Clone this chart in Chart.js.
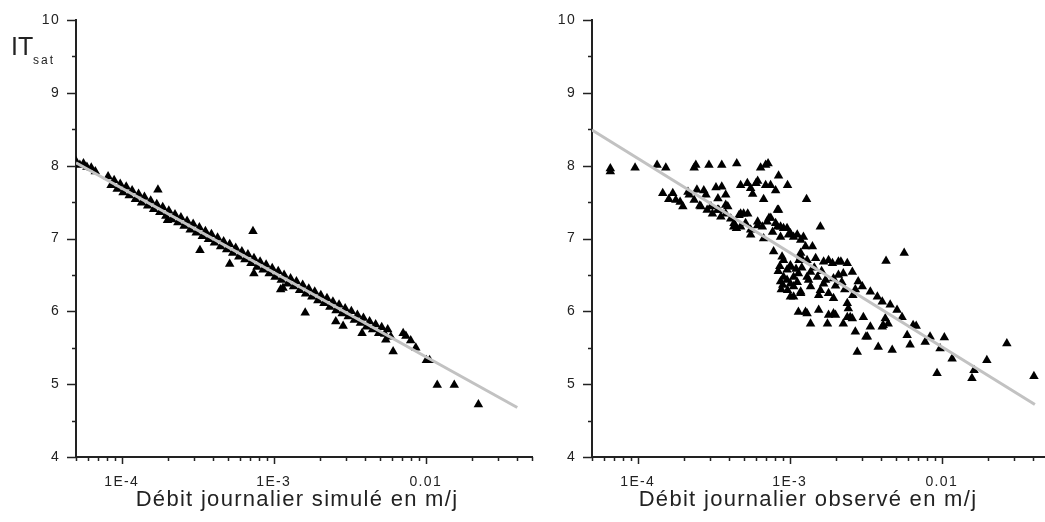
<!DOCTYPE html>
<html>
<head>
<meta charset="utf-8">
<script src="https://cdn.jsdelivr.net/npm/chart.js@4.4.0/dist/chart.umd.min.js"></script>
<style>
  html, body { margin: 0; padding: 0; background: #fff; overflow: hidden; }
  #wrap { position: relative; width: 1045px; height: 522px; overflow: hidden; }
  #left { position: absolute; left: 0; top: 0; }
  #right { position: absolute; left: 522px; top: 0; }
</style>
</head>
<body>
<div id="wrap">
  <canvas id="left" width="541" height="522"></canvas>
  <canvas id="right" width="535" height="522"></canvas>
</div>
<script>
// x tick labels (decades) on both panels
var xMajor = [1e-4, 1e-3, 1e-2];
var xTickLabels = ["1E-4", "1E-3", "0.01"];

// left panel: simulated daily flow (m/j) vs IT sat
var simQ = [5.0e-5, 5.3e-5, 5.6e-5, 5.9e-5, 6.3e-5, 6.7e-5,
  8.13e-5, 8.51e-5, 8.91e-5, 9.33e-5, 9.77e-5, 1.02e-4, 1.07e-4, 1.12e-4, 1.17e-4, 1.23e-4,
  1.29e-4, 1.35e-4, 1.41e-4, 1.48e-4, 1.55e-4, 1.62e-4, 1.70e-4, 1.78e-4, 1.86e-4, 1.95e-4,
  2.04e-4, 2.14e-4, 2.24e-4, 2.34e-4, 2.45e-4, 2.57e-4, 2.69e-4, 2.82e-4, 2.95e-4, 3.09e-4,
  3.24e-4, 3.39e-4, 3.55e-4, 3.72e-4, 3.89e-4, 4.07e-4, 4.27e-4, 4.47e-4, 4.68e-4, 4.90e-4,
  5.13e-4, 5.37e-4, 5.62e-4, 5.89e-4, 6.17e-4, 6.46e-4, 6.76e-4, 7.08e-4, 7.41e-4, 7.76e-4,
  8.13e-4, 8.51e-4, 8.91e-4, 9.33e-4, 9.77e-4, 1.02e-3, 1.07e-3, 1.12e-3, 1.17e-3, 1.23e-3,
  1.29e-3, 1.35e-3, 1.41e-3, 1.48e-3, 1.55e-3, 1.62e-3, 1.70e-3, 1.78e-3, 1.86e-3, 1.95e-3,
  2.04e-3, 2.14e-3, 2.24e-3, 2.34e-3, 2.45e-3, 2.57e-3, 2.69e-3, 2.82e-3, 2.95e-3, 3.09e-3,
  3.24e-3, 3.39e-3, 3.55e-3, 3.72e-3, 3.89e-3, 4.07e-3, 4.27e-3, 4.47e-3, 4.68e-3, 4.90e-3,
  5.13e-3, 5.37e-3, 5.62e-3, 5.89e-3,
  1.73e-4, 2.0e-4, 3.27e-4, 5.13e-4, 7.3e-4, 7.4e-4, 1.11e-3, 1.15e-3, 1.61e-3, 2.56e-3,
  2.86e-3, 3.81e-3, 5.46e-3, 6.1e-3, 7.1e-3, 7.4e-3, 7.96e-3, 8.6e-3, 1.01e-2, 1.06e-2,
  1.19e-2, 1.54e-2, 2.22e-2];
var simIT = [8.06, 8.01, 8.03, 7.98, 7.97, 7.92,
  7.85, 7.73, 7.80, 7.68, 7.75, 7.63, 7.71, 7.59, 7.66, 7.54,
  7.61, 7.49, 7.57, 7.45, 7.52, 7.40, 7.47, 7.36, 7.43, 7.31,
  7.38, 7.26, 7.33, 7.22, 7.29, 7.17, 7.24, 7.12, 7.20, 7.08,
  7.15, 7.03, 7.10, 6.99, 7.06, 6.94, 7.01, 6.89, 6.96, 6.85,
  6.92, 6.80, 6.87, 6.75, 6.82, 6.71, 6.78, 6.66, 6.73, 6.61,
  6.68, 6.57, 6.64, 6.52, 6.59, 6.47, 6.55, 6.43, 6.50, 6.38,
  6.45, 6.34, 6.41, 6.29, 6.36, 6.24, 6.31, 6.20, 6.27, 6.15,
  6.22, 6.11, 6.18, 6.06, 6.13, 6.01, 6.09, 5.97, 6.04, 5.93,
  6.00, 5.88, 5.95, 5.84, 5.91, 5.79, 5.86, 5.75, 5.82, 5.70,
  5.78, 5.69, 5.75, 5.65,
  7.67, 7.25, 6.84, 6.65, 7.10, 6.52, 6.30, 6.32, 5.98, 5.86,
  5.80, 5.70, 5.61, 5.45, 5.70, 5.66, 5.60, 5.50, 5.33, 5.33,
  4.99, 4.99, 4.72];
var simFitQ = [5e-5, 0.04];
var simFitIT = [8.04, 4.68];

// right panel: observed daily flow (m/j) vs IT sat
var obsQ = [6.6e-5, 6.6e-5, 9.6e-5, 1.34e-4, 1.53e-4, 2.35e-4, 2.41e-4, 2.94e-4, 3.57e-4, 4.48e-4,
  6.43e-4, 6.94e-4, 7.2e-4, 8.44e-4, 9.67e-4, 1.29e-3,
  1.46e-4, 1.70e-4, 1.60e-4, 1.78e-4, 1.90e-4, 1.98e-4, 2.14e-4, 2.18e-4, 2.35e-4, 2.45e-4,
  2.56e-4, 2.60e-4, 2.72e-4, 2.81e-4, 2.86e-4, 3.03e-4, 3.10e-4, 3.27e-4, 3.35e-4, 3.37e-4,
  3.41e-4, 3.52e-4, 3.57e-4, 3.79e-4, 3.79e-4, 3.79e-4, 3.91e-4, 4.09e-4, 4.28e-4, 4.30e-4,
  4.46e-4, 4.64e-4, 4.75e-4, 4.75e-4, 4.75e-4, 4.97e-4, 5.12e-4, 5.26e-4, 5.29e-4, 5.53e-4,
  5.53e-4, 5.53e-4, 5.70e-4, 6.0e-4, 6.15e-4, 6.15e-4, 6.15e-4, 6.6e-4, 6.73e-4, 6.73e-4,
  6.94e-4, 7.1e-4, 7.3e-4, 7.48e-4, 7.5e-4, 7.71e-4, 7.83e-4, 8.07e-4, 8.07e-4, 8.3e-4,
  8.3e-4, 8.44e-4, 8.7e-4, 8.7e-4, 9.1e-4, 9.6e-4, 9.81e-4, 1.01e-3, 1.06e-3, 1.12e-3,
  1.18e-3, 1.23e-3, 1.27e-3, 1.41e-3, 1.59e-3,
  8.9e-4, 9.1e-4, 1.01e-3, 1.15e-3, 9.6e-4, 1.01e-3, 1.06e-3, 9.1e-4, 8.7e-4, 9.6e-4,
  1.01e-3, 1.06e-3, 1.18e-3, 1.33e-3, 9.67e-4, 1.01e-3, 1.06e-3, 1.18e-3, 1.18e-3, 1.30e-3,
  1.14e-3, 1.30e-3, 1.37e-3, 1.48e-3, 1.52e-3, 1.67e-3, 1.72e-3, 1.80e-3, 1.91e-3, 1.94e-3,
  2.09e-3, 2.09e-3, 2.17e-3, 2.25e-3, 2.39e-3, 2.58e-3, 1.18e-3, 1.37e-3, 1.55e-3, 1.59e-3,
  1.67e-3, 1.80e-3, 1.94e-3, 1.14e-3, 1.27e-3, 1.30e-3, 1.55e-3, 1.80e-3, 1.94e-3, 2.00e-3,
  1.37e-3, 1.77e-3, 2.25e-3, 2.39e-3, 2.39e-3, 2.43e-3, 2.50e-3, 2.58e-3, 2.70e-3, 2.78e-3,
  2.82e-3, 3.00e-3, 3.05e-3, 3.17e-3, 3.24e-3, 3.39e-3, 3.39e-3, 3.77e-3, 3.82e-3, 4.06e-3,
  4.06e-3, 4.12e-3, 4.25e-3, 4.3e-3, 4.44e-3, 4.58e-3, 4.72e-3, 5.08e-3, 5.48e-3, 5.66e-3,
  5.92e-3, 6.19e-3, 6.48e-3, 6.79e-3, 7.78e-3, 8.38e-3, 9.31e-3, 9.75e-3, 1.04e-2, 1.17e-2,
  1.58e-2, 1.63e-2, 1.98e-2, 2.68e-2, 4.04e-2,
  8.4e-4, 8.6e-4, 8.8e-4, 9.0e-4, 1.1e-3, 1.12e-3, 1.2e-3, 1.45e-3, 1.62e-3, 2.0e-3,
  2.2e-3, 2.3e-3, 2.6e-3, 2.7e-3];
var obsIT = [7.92, 7.96, 7.97, 8.01, 7.97, 7.97, 8.01, 8.01, 8.01, 8.03,
  7.97, 8.01, 8.03, 7.86, 7.73, 7.54,
  7.62, 7.62, 7.54, 7.53, 7.50, 7.44, 7.64, 7.60, 7.53, 7.67,
  7.45, 7.44, 7.66, 7.60, 7.39, 7.44, 7.34, 7.70, 7.39, 7.55,
  7.39, 7.30, 7.71, 7.60, 7.34, 7.46, 7.44, 7.27, 7.16, 7.21,
  7.14, 7.32, 7.73, 7.16, 7.34, 7.34, 7.21, 7.76, 7.34, 7.69,
  7.12, 7.05, 7.61, 7.76, 7.79, 7.23, 7.18, 7.16, 7.54, 7.00,
  7.73, 7.23, 7.28, 7.73, 7.28, 7.09, 6.82, 7.66, 7.21, 7.39,
  7.16, 7.39, 7.02, 7.16, 7.14, 7.14, 7.05, 7.07, 7.02, 7.05,
  6.98, 7.02, 6.89, 6.89, 7.16,
  6.75, 6.70, 6.63, 6.70, 6.57, 6.61, 6.47, 6.47, 6.41, 6.43,
  6.38, 6.34, 6.25, 6.43, 6.29, 6.20, 6.20, 6.80, 6.75, 6.70,
  6.52, 6.47, 6.54, 6.73, 6.47, 6.68, 6.43, 6.70, 6.66, 6.45,
  6.68, 6.50, 6.68, 6.52, 6.66, 6.54, 6.27, 6.34, 6.22, 6.29,
  6.38, 6.25, 6.18, 5.99, 5.99, 5.97, 6.02, 5.95, 5.97, 5.95,
  5.83, 5.83, 5.83, 5.92, 6.11, 6.04, 5.92, 5.90, 5.72, 5.44,
  6.41, 6.34, 5.92, 5.65, 5.65, 6.27, 5.79, 6.20, 5.51, 6.13,
  5.79, 5.81, 5.90, 6.69, 5.83, 6.09, 5.47, 6.02, 5.92, 6.80,
  5.67, 5.54, 5.81, 5.80, 5.58, 5.65, 5.15, 5.49, 5.64, 5.35,
  5.08, 5.19, 5.33, 5.56, 5.11,
  6.55, 6.62, 6.30, 6.36, 6.58, 6.40, 6.60, 6.60, 6.55, 6.35,
  6.40, 6.30, 6.22, 6.30];
var obsFitQ = [5e-5, 0.041];
var obsFitIT = [8.49, 4.72];

var FONT = "'Liberation Sans', Arial, sans-serif";
var INK = "#222";

// all 1..9 multiples between 5e-5 and 0.05, used as tick marks
var xTickValues = [];
[-5, -4, -3, -2].forEach(function (e) {
  for (var m = 1; m <= 9; m++) {
    var v = m * Math.pow(10, e);
    if (v >= 4.99e-5 && v <= 0.0501) xTickValues.push(v);
  }
});

function isMajor(v) {
  return xMajor.findIndex(function (m) { return Math.abs(v / m - 1) < 1e-6; });
}

function pts(xs, ys) {
  return xs.map(function (x, i) { return { x: x, y: ys[i] }; });
}

// slightly spaced lettering like the original plot
var spacing = {
  id: "spacing",
  beforeDraw: function (chart) { chart.ctx.letterSpacing = "1.3px"; }
};

// draws the outward tick marks: long on labelled values, short between
var tickMarks = {
  id: "tickMarks",
  afterDraw: function (chart) {
    var ctx = chart.ctx, a = chart.chartArea;
    var sx = chart.scales.x, sy = chart.scales.y;
    ctx.save();
    ctx.strokeStyle = INK;
    ctx.lineWidth = 1.5;
    ctx.beginPath();
    sx.ticks.forEach(function (t) {
      var px = Math.round(sx.getPixelForValue(t.value)) + 0.5;
      var len = isMajor(t.value) >= 0 ? 7 : 4;
      ctx.moveTo(px, a.bottom);
      ctx.lineTo(px, a.bottom + len);
    });
    sy.ticks.forEach(function (t) {
      var py = Math.round(sy.getPixelForValue(t.value)) + 0.5;
      var len = Number.isInteger(t.value) ? 9 : 4;
      ctx.moveTo(a.left, py);
      ctx.lineTo(a.left - len, py);
    });
    ctx.stroke();
    ctx.restore();
  }
};

// x axis title under the tick labels (centre given in canvas px)
function axisTitle(text, cx) {
  return {
    id: "axisTitle",
    afterDraw: function (chart) {
      var ctx = chart.ctx;
      ctx.save();
      ctx.fillStyle = INK;
      ctx.font = "22px " + FONT;
      ctx.letterSpacing = "1.3px";
      ctx.textAlign = "center";
      ctx.textBaseline = "middle";
      ctx.fillText(text, cx, 500);
      ctx.restore();
    }
  };
}

// "IT sat" label in the top left corner of the first panel
var itLabel = {
  id: "itLabel",
  afterDraw: function (chart) {
    var ctx = chart.ctx;
    ctx.save();
    ctx.fillStyle = INK;
    ctx.textBaseline = "alphabetic";
    ctx.letterSpacing = "0px";
    ctx.font = "25px " + FONT;
    ctx.fillText("IT", 11, 55);
    ctx.font = "12px " + FONT;
    ctx.letterSpacing = "2px";
    ctx.fillText("sat", 33, 64);
    ctx.restore();
  }
};

function makeChart(id, q, it, fitQ, fitIT, yWidth, extra) {
  return new Chart(document.getElementById(id), {
    type: "scatter",
    data: {
      datasets: [
        {
          type: "line",
          data: pts(fitQ, fitIT),
          borderColor: "#c2c2c2",
          borderWidth: 3,
          pointRadius: 0,
          fill: false,
          tension: 0
        },
        {
          data: pts(q, it),
          pointStyle: "triangle",
          pointRadius: 5.5,
          pointHoverRadius: 5.5,
          backgroundColor: "#000",
          borderWidth: 0
        }
      ]
    },
    options: {
      responsive: false,
      animation: false,
      devicePixelRatio: 1,
      layout: { padding: { top: 20, right: 9, bottom: 0, left: 0 } },
      plugins: { legend: { display: false }, tooltip: { enabled: false } },
      scales: {
        x: {
          type: "logarithmic",
          min: 5e-5,
          max: 0.05,
          grid: { display: false },
          border: { display: true, color: INK, width: 2 },
          afterBuildTicks: function (s) {
            s.ticks = xTickValues.map(function (v) { return { value: v }; });
          },
          afterFit: function (s) { s.height = 65; },
          ticks: {
            autoSkip: false,
            maxRotation: 0,
            padding: 9,
            color: INK,
            font: { family: FONT, size: 14 },
            callback: function (v) {
              var k = isMajor(v);
              return k >= 0 ? xTickLabels[k] : "";
            }
          }
        },
        y: {
          min: 4,
          max: 10,
          grid: { display: false },
          border: { display: true, color: INK, width: 2 },
          afterFit: function (s) { s.width = yWidth; },
          ticks: {
            stepSize: 0.5,
            autoSkip: false,
            padding: 8,
            color: INK,
            font: { family: FONT, size: 14 },
            callback: function (v) { return Number.isInteger(v) ? String(v) : ""; }
          }
        }
      }
    },
    plugins: [spacing, tickMarks].concat(extra)
  });
}

makeChart("left", simQ, simIT, simFitQ, simFitIT, 76,
  [itLabel, axisTitle("Débit journalier simulé en m/j", 297)]);
makeChart("right", obsQ, obsIT, obsFitQ, obsFitIT, 70,
  [axisTitle("Débit journalier observé en m/j", 286)]);
</script>
</body>
</html>
